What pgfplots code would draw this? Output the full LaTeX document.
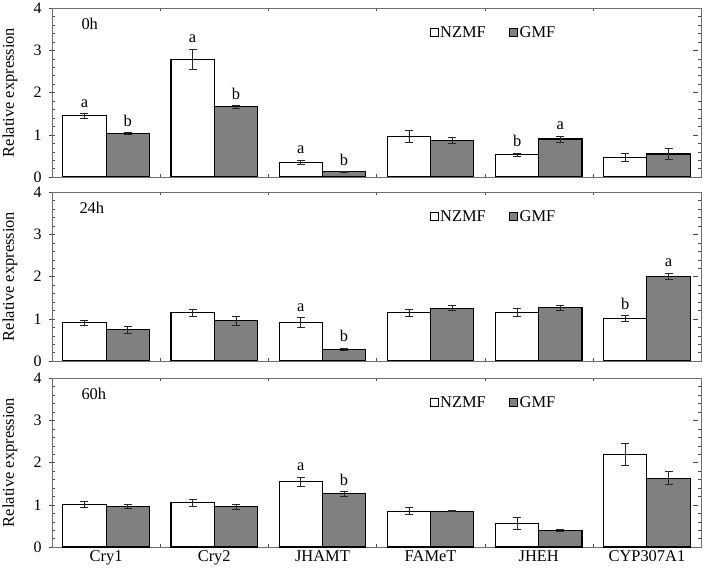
\documentclass[border=0pt]{standalone}
\usepackage{pgfplots}
\pgfplotsset{compat=1.18}
\usepackage{pgfplotstable}
\usepackage{fontspec}
\setmainfont{Liberation Serif}

\pgfplotstableread{
x n nerr g gerr
0 1.45 0.05 1.03 0.02
1 2.79 0.24 1.665 0.03
2 0.35 0.05 0.12 0.01
3 0.955 0.14 0.87 0.08
4 0.53 0.04 0.90 0.07
5 0.465 0.10 0.545 0.125
}\tableA
\pgfplotstableread{
x n nerr g gerr
0 0.91 0.06 0.745 0.08
1 1.14 0.075 0.95 0.10
2 0.91 0.12 0.28 0.02
3 1.14 0.075 1.25 0.06
4 1.15 0.09 1.26 0.055
5 1.01 0.06 2.01 0.065
}\tableB
\pgfplotstableread{
x n nerr g gerr
0 1.01 0.06 0.965 0.04
1 1.045 0.075 0.95 0.055
2 1.55 0.11 1.26 0.055
3 0.85 0.08 0.85 0.015
4 0.555 0.14 0.40 0.025
5 2.20 0.26 1.63 0.155
}\tableC

\definecolor{barg}{RGB}{128,128,128}
\definecolor{frame}{RGB}{110,110,110}

\pgfplotsset{
  panel/.style={
    scale only axis, width=649bp, height=169bp,
    anchor=north west,
    xmin=-0.5, xmax=5.5, ymin=0, ymax=4,
    ytick={0,1,2,3,4}, minor y tick num=4,
    yticklabel={\pgfmathprintnumber[assume math mode=true]{\tick}},
    tick align=inside, major tick length=5bp, minor tick length=3bp,
    major y tick style={xshift=-2.5bp, black!70},
    minor y tick style={black!70},
    axis line style={frame, line width=0.8bp},
    xtick={0,...,5}, major x tick style={draw=none},
    minor xtick={0.5,1.5,2.5,3.5,4.5},
    minor x tick style={black!70},
    xticklabels={},
    ylabel={Relative expression},
    ylabel style={at={(axis description cs:-0.0647,0.5)}, anchor=center},
    yticklabel style={xshift=-7bp, inner ysep=0pt, font=\fontsize{16}{16}\selectfont},
    legend style={at={(axis description cs:0.68,0.855)}, anchor=center, draw=none, fill=none,
      legend columns=2, /tikz/every even column/.append style={column sep=22bp},
      nodes={inner xsep=1.5bp}},
    legend image code/.code={\draw[#1, line width=0.8bp] (0bp,-4bp) rectangle (8bp,4bp);},
    error bars/y dir=both, error bars/y explicit,
    error bars/error bar style={line width=0.6bp, black!85},
    error bars/error mark options={rotate=90, mark size=4bp, line width=0.6bp, black!85},
  },
  nbar/.style={ybar, bar width=0.4, bar shift=0, fill=white, draw=black, line width=1.1bp},
  gbar/.style={ybar, bar width=0.4, bar shift=0, fill=barg, draw=black, line width=1.1bp},
}

\newcommand{\lab}[3]{\node[anchor=south, inner sep=0pt, yshift=6bp] at (axis cs:#1,#2) {#3};}

\begin{document}
\begin{tikzpicture}[font=\fontsize{16.5}{19}\selectfont]
\useasboundingbox (0,0) rectangle (704bp,-578bp);

\begin{axis}[panel, at={(52bp,-8bp)}]
\addplot[nbar] table[x expr=\thisrow{x}-0.2, y=n, y error=nerr] {\tableA};
\addplot[gbar] table[x expr=\thisrow{x}+0.2, y=g, y error=gerr] {\tableA};
\legend{NZMF, GMF}
\node[anchor=west, xshift=26bp, yshift=-16bp] at (rel axis cs:0,1) {0h};
\lab{-0.2}{1.50}{a}
\lab{0.2}{1.05}{b}
\lab{0.8}{3.03}{a}
\lab{1.2}{1.695}{b}
\lab{1.8}{0.40}{a}
\lab{2.2}{0.13}{b}
\lab{3.8}{0.57}{b}
\lab{4.2}{0.97}{a}
\end{axis}

\begin{axis}[panel, at={(52bp,-192bp)}]
\addplot[nbar] table[x expr=\thisrow{x}-0.2, y=n, y error=nerr] {\tableB};
\addplot[gbar] table[x expr=\thisrow{x}+0.2, y=g, y error=gerr] {\tableB};
\legend{NZMF, GMF}
\node[anchor=west, xshift=24bp, yshift=-16bp] at (rel axis cs:0,1) {24h};
\lab{1.8}{1.03}{a}
\lab{2.2}{0.30}{b}
\lab{4.8}{1.07}{b}
\lab{5.2}{2.075}{a}
\end{axis}

\begin{axis}[panel, at={(52bp,-378bp)},
  xticklabels={Cry1, Cry2, JHAMT, FAMeT, JHEH, CYP307A1}]
\addplot[nbar] table[x expr=\thisrow{x}-0.2, y=n, y error=nerr] {\tableC};
\addplot[gbar] table[x expr=\thisrow{x}+0.2, y=g, y error=gerr] {\tableC};
\legend{NZMF, GMF}
\node[anchor=west, xshift=26bp, yshift=-16bp] at (rel axis cs:0,1) {60h};
\lab{1.8}{1.66}{a}
\lab{2.2}{1.315}{b}
\end{axis}
\end{tikzpicture}
\end{document}
